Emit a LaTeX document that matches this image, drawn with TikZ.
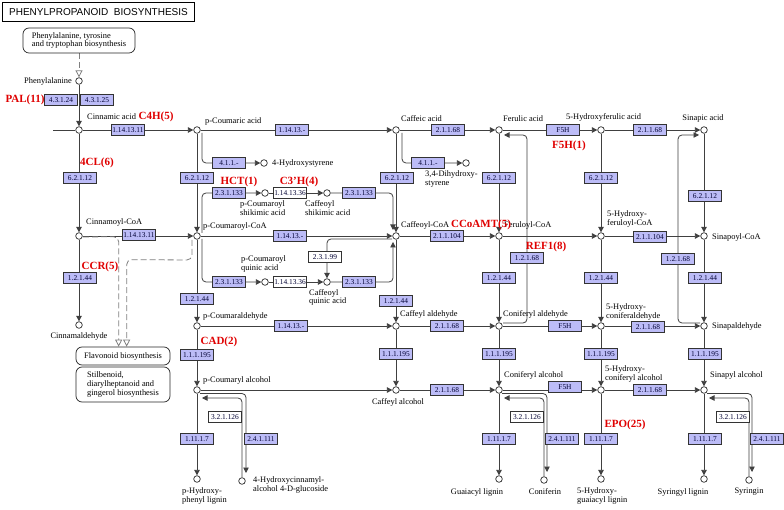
\documentclass[tikz,border=0pt]{standalone}
\usepackage{fontspec}
\setmainfont{Liberation Serif}
\newfontfamily\ttlfont{Liberation Sans}
\usetikzlibrary{arrows.meta,calc,backgrounds}
\definecolor{ecfill}{HTML}{BCBCF7}
\definecolor{lnc}{HTML}{404040}
\definecolor{redc}{HTML}{E00000}
\tikzset{
 enz/.style={draw=black!80, fill=ecfill, line width=0.6pt, minimum width=33pt, minimum height=11pt, inner sep=0pt, font=\fontsize{7.4}{7.4}\selectfont, text=black!80!blue},
 enzw/.style={enz, fill=white},
 met/.style={circle, draw=black!85, fill=white, line width=0.7pt, minimum size=6.6pt, inner sep=0pt},
 lab/.style={font=\fontsize{8.4}{8.3}\selectfont, inner sep=0pt, align=left},
 rlab/.style={font=\fontsize{11}{11}\selectfont\bfseries, text=redc, inner sep=0pt},
 ln/.style={draw=lnc, line width=0.8pt, rounded corners=4pt},
 arr/.style={ln, -{Triangle[length=5.5pt,width=5.5pt]}},
 dsh/.style={draw=gray, line width=0.8pt, dash pattern=on 6pt off 3pt, rounded corners=5pt, -{Triangle[open,length=7pt,width=7pt,fill=white]}},
 pbox/.style={draw=black!85, rounded corners=6pt, line width=0.7pt, inner sep=0pt, font=\fontsize{8.4}{8.6}\selectfont, align=left},
}
\newcommand\enzbox[4]{\node[enz] (#1) at (#2) {#4};}
\begin{document}
\begin{tikzpicture}[x=1pt,y=-1pt]
\useasboundingbox (0,0) rectangle (784,510);
% title and pathway boxes
\node[draw=black, line width=1.6pt, minimum width=192pt, minimum height=19pt, inner sep=0pt, font=\ttlfont\fontsize{10}{10}\selectfont] (title) at (98.5,12) {PHENYLPROPANOID\ \ BIOSYNTHESIS};
\node[pbox, minimum width=112pt, minimum height=25pt] (ppath) at (79,40.5) {Phenylalanine, tyrosine\\and tryptophan biosynthesis};
\node[pbox, minimum width=94pt, minimum height=18pt] (flav) at (123,356) {Flavonoid biosynthesis};
\node[pbox, minimum width=94pt, minimum height=35pt] (stil) at (123,384.5) {Stilbenoid,\\diarylheptanoid and\\gingerol biosynthesis};
% compounds
\node[met] (phe) at (79,81) {};
\node[met] (cin) at (79,130) {};
\node[met] (pca) at (197,130) {};
\node[met] (caf) at (396,130) {};
\node[met] (fer) at (499,130) {};
\node[met] (hfa) at (601,130) {};
\node[met] (sin) at (704,130) {};
\node[met] (hsty) at (264,163) {};
\node[met] (dhs) at (466,163) {};
\node[met] (pcs) at (265,193) {};
\node[met] (cs) at (327,193) {};
\node[met] (cinc) at (79,236) {};
\node[met] (pcc) at (197,236) {};
\node[met] (cfc) at (396,236) {};
\node[met] (frc) at (499,236) {};
\node[met] (hfc) at (601,236) {};
\node[met] (snc) at (704,236) {};
\node[met] (pcq) at (265,282) {};
\node[met] (cq) at (327,282) {};
\node[met] (cinal) at (79,325) {};
\node[met] (pcal) at (197,326) {};
\node[met] (cfal) at (396,326) {};
\node[met] (conal) at (499,326) {};
\node[met] (hcal) at (601,326) {};
\node[met] (snal) at (704,326) {};
\node[met] (pcoh) at (197,390) {};
\node[met] (cfoh) at (396,390) {};
\node[met] (conoh) at (499,390) {};
\node[met] (hcoh) at (601,390) {};
\node[met] (snoh) at (704,390) {};
\node[met] (hpl) at (197,479) {};
\node[met] (glu) at (242,481) {};
\node[met] (gl) at (499,479) {};
\node[met] (cnf) at (544,480) {};
\node[met] (hgl) at (601,479) {};
\node[met] (syl) at (704,479) {};
\node[met] (syr) at (749,480) {};
\coordinate (cinL) at (53,130);
% compound labels
\node[lab, anchor=east] (t1) at (72,81) {Phenylalanine};
\node[lab, anchor=west] (t2) at (87,117) {Cinnamic acid};
\node[lab, anchor=west] (t3) at (205,121) {p-Coumaric acid};
\node[lab, anchor=west] (t4) at (272,163) {4-Hydroxystyrene};
\node[lab, anchor=west] (t5) at (401,119) {Caffeic acid};
\node[lab, anchor=west] (t6) at (503,119) {Ferulic acid};
\node[lab, anchor=west] (t7) at (566,117) {5-Hydroxyferulic acid};
\node[lab] (t8) at (703,118) {Sinapic acid};
\node[lab, anchor=west] (t9) at (425,179) {3,4-Dihydroxy-\\styrene};
\node[lab, anchor=west] (t10) at (240,208) {p-Coumaroyl\\shikimic acid};
\node[lab, anchor=west] (t11) at (305,208) {Caffeoyl\\shikimic acid};
\node[lab, anchor=west] (t12) at (86,222) {Cinnamoyl-CoA};
\node[lab, anchor=west] (t13) at (203,226) {p-Coumaroyl-CoA};
\node[lab, anchor=west] (t14) at (401,225) {Caffeoyl-CoA};
\node[lab, anchor=west] (t15) at (504,225) {Feruloyl-CoA};
\node[lab, anchor=west] (t16) at (607,219) {5-Hydroxy-\\feruloyl-CoA};
\node[lab, anchor=west] (t17) at (712,237) {Sinapoyl-CoA};
\node[lab, anchor=west] (t18) at (241,264) {p-Coumaroyl\\quinic acid};
\node[lab, anchor=west] (t19) at (309,297.5) {Caffeoyl\\quinic acid};
\node[lab] (t20) at (79,336) {Cinnamaldehyde};
\node[lab, anchor=west] (t21) at (203,316) {p-Coumaraldehyde};
\node[lab, anchor=west] (t22) at (400,314) {Caffeyl aldehyde};
\node[lab, anchor=west] (t23) at (503,314) {Coniferyl aldehyde};
\node[lab, anchor=west] (t24) at (606,312) {5-Hydroxy-\\coniferaldehyde};
\node[lab, anchor=west] (t25) at (712,326) {Sinapaldehyde};
\node[lab, anchor=west] (t26) at (203,380) {p-Coumaryl alcohol};
\node[lab] (t27) at (398,402) {Caffeyl alcohol};
\node[lab, anchor=west] (t28) at (504,375) {Coniferyl alcohol};
\node[lab, anchor=west] (t29) at (605,374) {5-Hydroxy-\\coniferyl alcohol};
\node[lab, anchor=west] (t30) at (710,375) {Sinapyl alcohol};
\node[lab, anchor=west] (t31) at (182,496) {p-Hydroxy-\\phenyl lignin};
\node[lab, anchor=west] (t32) at (253,485) {4-Hydroxycinnamyl-\\alcohol 4-D-glucoside};
\node[lab] (t33) at (477,492) {Guaiacyl lignin};
\node[lab] (t34) at (545,492) {Coniferin};
\node[lab, anchor=west] (t35) at (577,496) {5-Hydroxy-\\guaiacyl lignin};
\node[lab] (t36) at (683,492) {Syringyl lignin};
\node[lab] (t37) at (749,492) {Syringin};
% enzymes
\enzbox{e1}{61,100}{}{4.3.1.24}
\enzbox{e2}{97,100}{}{4.3.1.25}
\enzbox{e3}{128,130}{}{1.14.13.11}
\enzbox{e4}{80,178}{}{6.2.1.12}
\enzbox{e5}{139,235}{}{1.14.13.11}
\enzbox{e6}{80,278}{}{1.2.1.44}
\enzbox{e7}{197,178}{}{6.2.1.12}
\enzbox{e8}{197,299}{}{1.2.1.44}
\enzbox{e9}{197,355}{}{1.1.1.195}
\enzbox{e10}{197,439}{}{1.11.1.7}
\enzbox{e11}{229,163}{}{4.1.1.-}
\enzbox{e12}{229,193}{}{2.3.1.133}
\node[enzw] (e13) at (290,193) {1.14.13.36};
\enzbox{e14}{359,193}{}{2.3.1.133}
\enzbox{e15}{229,282}{}{2.3.1.133}
\node[enzw] (e16) at (290,282) {1.14.13.36};
\enzbox{e17}{359,282}{}{2.3.1.133}
\node[enzw] (e18) at (325,257) {2.3.1.99};
\enzbox{e19}{292,130}{}{1.14.13.-}
\enzbox{e20}{290,236}{}{1.14.13.-}
\enzbox{e21}{291,326}{}{1.14.13.-}
\node[enzw] (e22) at (225,417) {3.2.1.126};
\enzbox{e23}{261,439}{}{2.4.1.111}
\enzbox{e24}{428,163}{}{4.1.1.-}
\enzbox{e25}{397,178}{}{6.2.1.12}
\enzbox{e26}{396,301}{}{1.2.1.44}
\enzbox{e27}{396,354}{}{1.1.1.195}
\enzbox{e28}{448,130}{}{2.1.1.68}
\enzbox{e29}{447,236}{}{2.1.1.104}
\enzbox{e30}{447,326}{}{2.1.1.68}
\enzbox{e31}{447,390}{}{2.1.1.68}
\enzbox{e32}{499,178}{}{6.2.1.12}
\enzbox{e33}{499,278}{}{1.2.1.44}
\enzbox{e34}{499,354}{}{1.1.1.195}
\enzbox{e35}{499,439}{}{1.11.1.7}
\enzbox{e36}{527,258}{}{1.2.1.68}
\node[enzw] (e37) at (527,417) {3.2.1.126};
\enzbox{e38}{562,439}{}{2.4.1.111}
\enzbox{e39}{563,130}{}{F5H}
\enzbox{e40}{565,326}{}{F5H}
\enzbox{e41}{565,387}{}{F5H}
\enzbox{e42}{601,178}{}{6.2.1.12}
\enzbox{e43}{601,278}{}{1.2.1.44}
\enzbox{e44}{601,354}{}{1.1.1.195}
\enzbox{e45}{601,439}{}{1.11.1.7}
\enzbox{e46}{650,130}{}{2.1.1.68}
\enzbox{e47}{650,237}{}{2.1.1.104}
\enzbox{e48}{648,327}{}{2.1.1.68}
\enzbox{e49}{650,390}{}{2.1.1.68}
\enzbox{e50}{705,196}{}{6.2.1.12}
\enzbox{e51}{705,278}{}{1.2.1.44}
\enzbox{e52}{705,354}{}{1.1.1.195}
\enzbox{e53}{705,439}{}{1.11.1.7}
\enzbox{e54}{678,259}{}{1.2.1.68}
\node[enzw] (e55) at (733,417) {3.2.1.126};
\enzbox{e56}{767,439}{}{2.4.1.111}
% red labels
\node[rlab] (r1) at (25,100) {PAL(11)};
\node[rlab] (r2) at (156,117) {C4H(5)};
\node[rlab] (r3) at (97,163) {4CL(6)};
\node[rlab] (r4) at (100,267) {CCR(5)};
\node[rlab] (r5) at (239,182) {HCT(1)};
\node[rlab] (r6) at (299,182) {C3’H(4)};
\node[rlab] (r7) at (481,225) {CCoAMT(5)};
\node[rlab] (r8) at (546,247) {REF1(8)};
\node[rlab] (r9) at (569,146) {F5H(1)};
\node[rlab] (r10) at (219,342) {CAD(2)};
\node[rlab] (r11) at (625,425) {EPO(25)};
% connectors
\begin{scope}[on background layer]
\fill[white] (0,0) rectangle (784,510);
\draw[dsh] (ppath) -- (phe);
\draw[arr] (phe) -- (cin);
\draw[ln] (cinL) -- (cin);
\foreach \a/\b in {cin/pca,pca/caf,caf/fer,fer/hfa,hfa/sin,
  cin/cinc,pca/pcc,caf/cfc,fer/frc,hfa/hfc,sin/snc,
  cinc/pcc,pcc/cfc,cfc/frc,frc/hfc,hfc/snc,
  cinc/cinal,pcc/pcal,cfc/cfal,frc/conal,hfc/hcal,snc/snal,
  pcal/cfal,cfal/conal,conal/hcal,hcal/snal,
  pcal/pcoh,cfal/cfoh,conal/conoh,hcal/hcoh,snal/snoh,
  pcoh/cfoh,cfoh/conoh,conoh/hcoh,hcoh/snoh,
  pcoh/hpl,conoh/gl,hcoh/hgl,snoh/syl,
  pcs/cs,pcq/cq}
  {\draw[arr] (\a) -- (\b);}
% styrenes
\draw[arr] ($(pca)+(5,3)$) -- ($(pca)+(5,33)$) -- (hsty);
\draw[arr] ($(caf)+(6,3)$) -- ($(caf)+(6,33)$) -- (dhs);
% shikimate / quinate shunts
\draw[arr] ($(pcc)+(5,-3)$) -- ($(pcc)+(5,-43)$) -- (pcs);
\draw[arr] (cs) -- ($(cs)+(66,0)$) -- ($(cfc)+(-3,-6)$);
\draw[arr] ($(pcc)+(5,3)$) -- ($(pcc)+(5,46)$) -- (pcq);
\draw[arr] (cq) -- ($(cq)+(66,0)$) -- ($(cfc)+(-3,6)$);
\draw[arr] ($(cfc)+(-4,3)$) -- ($(cq)+(0,-43)$) -- (cq);
% REF1
\draw[arr] ($(conal)+(4,-3)$) -- ($(conal)+(28,-3)$) -- ($(fer)+(28,5)$) -- ($(fer)+(5,5)$);
\draw[arr] ($(snal)+(-4,-3)$) -- ($(snal)+(-26,-3)$) -- ($(sin)+(-26,5)$) -- ($(sin)+(-5,5)$);
% glucoside loops
\draw[arr] ($(pcoh)+(3,3.5)$) -- ($(pcoh)+(49,3.5)$) -- ($(glu)+(4,-8)$);
\draw[arr] (glu.north) -- ($(glu)+(0,-83)$) -- ($(pcoh)+(5,8)$);
\draw[arr] ($(conoh)+(3,3.5)$) -- ($(conoh)+(48,3.5)$) -- ($(cnf)+(3,-8)$);
\draw[arr] (cnf.north) -- ($(cnf)+(0,-82)$) -- ($(conoh)+(5,8)$);
\draw[arr] ($(snoh)+(3,3.5)$) -- ($(snoh)+(48,3.5)$) -- ($(syr)+(3,-8)$);
\draw[arr] (syr.north) -- ($(syr)+(0,-82)$) -- ($(snoh)+(5,8)$);
% flavonoid dashed
\draw[dsh] ($(cinc)+(4,1)$) -- ($(flav.north west)+(43,-110)$) -- ($(flav.north west)+(43,0)$);
\draw[dsh] ($(pcc)+(-5,4)$) -- ($(pcc)+(-5,24)$) -- ($(flav.north west)+(51,-87)$) -- ($(flav.north west)+(51,0)$);
\end{scope}
\end{tikzpicture}
\end{document}
